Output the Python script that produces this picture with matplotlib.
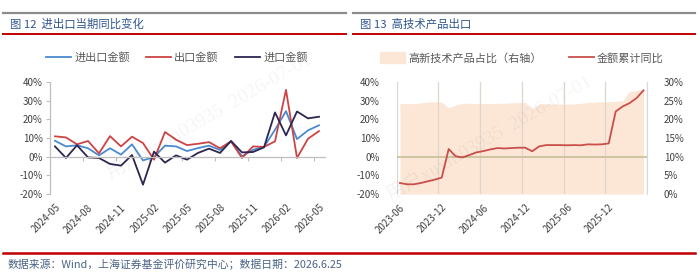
import numpy as np
import matplotlib
matplotlib.use("Agg")
import matplotlib.pyplot as plt
from matplotlib.lines import Line2D
from matplotlib.patches import Patch

plt.rcParams['font.family'] = ['Noto Sans CJK SC', 'DejaVu Sans']

# ---------------------------------
# DATA
# ---------------------------------
left_months = ["2024-05", "2024-06", "2024-07", "2024-08", "2024-09", "2024-10", "2024-11",
               "2024-12", "2025-01", "2025-02", "2025-03", "2025-04", "2025-05", "2025-06",
               "2025-07", "2025-08", "2025-09", "2025-10", "2025-11", "2025-12", "2026-01",
               "2026-02", "2026-03", "2026-04", "2026-05"]
trade_total = [8.5, 5.5, 6.1, 4.5, 0.7, 4.5, 1.1, 6.6, -2.0, -0.2, 5.9, 5.5, 3.0, 4.6, 5.9,
               3.6, 8.2, 0.2, 3.7, 5.2, 14.4, 24.4, 9.4, 14.1, 16.8]
exports = [10.9, 10.3, 6.6, 8.4, 1.8, 11.0, 5.5, 10.7, 7.3, -1.6, 13.2, 9.1, 6.2, 6.9, 7.8,
           4.5, 8.2, -0.7, 5.5, 5.2, 8.2, 35.8, -0.7, 9.6, 13.7]
imports = [5.5, -0.7, 6.1, -0.4, -0.7, -3.9, -4.8, 0.9, -15.0, 2.7, -3.2, 0.7, -1.6, 2.0, 4.3,
           2.0, 8.4, 2.3, 2.5, 5.0, 23.7, 11.4, 24.2, 20.5, 21.4]

right_months = [f"{y}-{m:02d}" for y, m in
                [(2023, m) for m in range(6, 13)] + [(2024, m) for m in range(1, 13)]
                + [(2025, m) for m in range(1, 13)] + [(2026, m) for m in range(1, 6)]]
hitech_share = [24.3, 24.2, 24.2, 24.4, 24.6, 24.7, 24.6, 23.1, 23.8, 24.3, 24.3, 24.2,
                24.2, 24.2, 24.3, 24.3, 24.4, 24.5, 24.5, 22.7, 24.2, 24.2, 24.1, 24.1,
                24.1, 24.1, 24.3, 24.5, 24.6, 24.7, 24.7, 24.8, 25.0, 27.4, 27.8, 28.1]
hitech_cum_yoy = [-14.1, -14.8, -14.8, -14.1, -13.2, -12.3, -11.2, 4.1, 0.2, -0.4, 0.9, 2.3,
                  3.0, 3.9, 4.6, 4.4, 4.6, 4.8, 4.8, 2.9, 5.5, 6.2, 6.2, 6.2,
                  6.1, 6.2, 6.1, 6.6, 6.5, 6.6, 7.1, 24.2, 26.9, 28.7, 31.4, 35.5]

W, H = 700, 278
fig = plt.figure(figsize=(7.0, 2.78), dpi=100)

def fx(px):
    return px / W

def fy(py):
    return 1 - py / H

# ---------------------------------
# FRAME: header lines, titles, source
# ---------------------------------
for x0, x1, title in [(3, 346, "图 12  进出口当期同比变化"), (353, 695, "图 13  高技术产品出口")]:
    fig.add_artist(Line2D([fx(x0), fx(x1)], [fy(13), fy(13)], color="#8c8c8c", lw=1.6))
    fig.add_artist(Line2D([fx(x0), fx(x1)], [fy(34), fy(34)], color="#c00000", lw=1.4))
    fig.text(fx(x0 + 7), fy(24), title, fontsize=8.2, color="#2f5590",
             fontweight="medium", va="center", ha="left")

fig.add_artist(Line2D([fx(3), fx(695)], [fy(252.5), fy(252.5)], color="#c00000", lw=1.8))
fig.text(fx(8), fy(264), "数据来源：Wind，上海证券基金评价研究中心；数据日期：2026.6.25",
         fontsize=7.8, color="#4a6285", va="center", ha="left")

tick_color = "#404040"

# ---------------------------------
# LEFT CHART
# ---------------------------------
axl = fig.add_axes([fx(49.5), fy(194), fx(275), 112 / H])
xl = np.arange(len(left_months))
axl.plot(xl, trade_total, color="#4a8bd0", lw=1.3, label="进出口金额")
axl.plot(xl, exports, color="#cc4444", lw=1.3, label="出口金额")
axl.plot(xl, imports, color="#2d2650", lw=1.3, label="进口金额")
axl.set_xlim(-0.5, len(left_months) - 0.5)
axl.set_ylim(-20, 40)
axl.set_yticks(np.arange(-20, 41, 10))
axl.set_yticklabels([f"{v}%" for v in range(-20, 41, 10)])
axl.tick_params(axis="y", length=3, width=0.8, color="#bfbfbf", labelsize=7,
                labelcolor=tick_color, pad=2)
for s in ["top", "right"]:
    axl.spines[s].set_visible(False)
axl.spines["left"].set_color("#bfbfbf")
axl.spines["left"].set_linewidth(0.9)
axl.spines["bottom"].set_position(("data", 0))
axl.spines["bottom"].set_color("#bfbfbf")
axl.spines["bottom"].set_linewidth(0.9)
axl.set_xticks(np.arange(2.5, len(left_months) - 0.5, 3))
axl.tick_params(axis="x", length=3, width=0.8, color="#bfbfbf", labelbottom=False)

secl = axl.secondary_xaxis("bottom")
secl.set_xticks(xl[::3])
secl.set_xticklabels(left_months[::3], rotation=45, ha="right", rotation_mode="anchor")
secl.tick_params(length=0, labelsize=7, labelcolor=tick_color, pad=6)
secl.spines["bottom"].set_visible(False)

fig.legend(handles=axl.get_lines(), loc="center", bbox_to_anchor=(fx(177), fy(58)),
           ncol=3, frameon=False, fontsize=8, handlelength=2.2, handletextpad=0.3,
           columnspacing=1.5, labelcolor="#595959")

# ---------------------------------
# RIGHT CHART
# ---------------------------------
axr = fig.add_axes([fx(396.5), fy(194), fx(250.5), 112 / H])
axr2 = axr.twinx()
xr = np.arange(len(right_months))
axr2.fill_between(xr, 0, hitech_share, color="#fce6d6", lw=0, zorder=1)
axr2.set_ylim(0, 30)
axr2.set_yticks(np.arange(0, 31, 5))
axr2.set_yticklabels([f"{v}%" for v in range(0, 31, 5)])
axr2.tick_params(axis="y", length=0, labelsize=7, labelcolor=tick_color, pad=12)

axr.set_zorder(axr2.get_zorder() + 1)
axr.patch.set_visible(False)
axr.plot(xr, hitech_cum_yoy, color="#c9504a", lw=1.3, zorder=3)
axr.axhline(0, color="#c8bf98", lw=1.2, zorder=2)
axr.set_xlim(-0.5, len(right_months) - 0.5)
axr.set_ylim(-20, 40)
axr.set_yticks(np.arange(-20, 41, 10))
axr.set_yticklabels([f"{v}%" for v in range(-20, 41, 10)])
axr.tick_params(axis="y", length=0, labelsize=7, labelcolor=tick_color, pad=12)
axr.set_xticks(np.arange(-0.5, len(right_months), 6), minor=False)
axr.grid(axis="x", color="#ddd6cc", lw=0.9, zorder=0)
axr.tick_params(axis="x", length=0, labelbottom=False)
for a in (axr, axr2):
    for s in a.spines.values():
        s.set_visible(False)
axr2.spines["right"].set_visible(True)
axr2.spines["right"].set_color("#d9d9d9")

secr = axr.secondary_xaxis("bottom")
secr.set_xticks(xr[::6])
secr.set_xticklabels(right_months[::6], rotation=45, ha="right", rotation_mode="anchor")
secr.tick_params(length=0, labelsize=7, labelcolor=tick_color, pad=6)
secr.spines["bottom"].set_visible(False)

fig.legend(handles=[Patch(color="#fce6d6", label="高新技术产品占比（右轴）"),
                    Line2D([], [], color="#c9504a", lw=1.3, label="金额累计同比")],
           loc="center", bbox_to_anchor=(fx(522), fy(58)), ncol=2, frameon=False,
           fontsize=8, handlelength=2.2, handleheight=1.1, handletextpad=0.3,
           columnspacing=2.5, labelcolor="#595959")

# faint watermarks
for x, y in [(0.30, 0.58), (0.70, 0.50)]:
    fig.text(x, y, "用户xuxin03935  2026-07-01", fontsize=14, rotation=30,
             color="#000000", alpha=0.045, ha="center", va="center",
             family=["Liberation Serif", "Noto Sans CJK SC"])

fig.savefig("out.png", dpi=100)
